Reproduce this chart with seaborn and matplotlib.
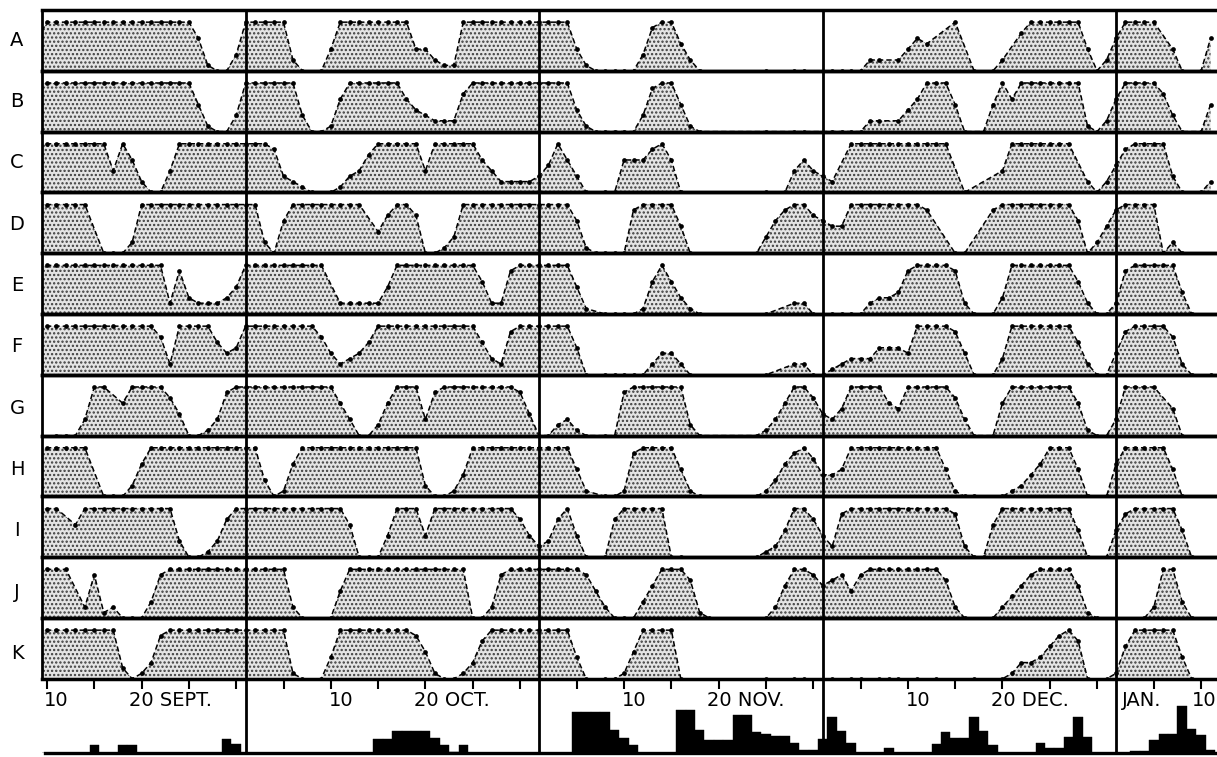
import numpy as np
import pandas as pd
import matplotlib
matplotlib.use("Agg")
import matplotlib.pyplot as plt
import matplotlib.transforms as mtransforms
import seaborn as sns

sns.set_theme(style="white")
plt.rcParams['font.family'] = ['DejaVu Sans']
plt.rcParams['hatch.linewidth'] = 1.1

# ---------------- data ----------------
# one character per day, 9 Sept -> 11 Jan ; '.' = no observation, digit = value in ninths
DATES = pd.date_range("1950-09-09", "1951-01-11", freq="D")
MONTH_LEN = [22, 31, 30, 31, 11]

ROW_LABELS = ["A", "B", "C", "D", "E", "F", "G", "H", "I", "J", "K"]

ROW_A = ("6999999999999999961003|9999920.04999999994421199999999|"
         "999941000003899520......0..00.|.000022.2465..9.0.02.7999999402|69999.40.06")
ROW_B = ("9999999999999999951003|9999993001699999964322279999999|"
         "999941000003899510......0..00.|.000022.24699950.05969999999102|69999730.05")
ROW_C = ("9999999949620049999999|99983210.0134799999499999642222|"
         "359630.006668960........0.0464|32.99999999999.0...49999999.202|58999930.02")
ROW_D = ("999999.000299999999999|9920699999999.47997001399999999|"
         "99996100008999950......0368997|655999999998..00..8999999996025|89999020...")
ROW_E = ("9999999999999928322235|999999999.222225999999999622899|"
         "999951.00001696310......0..220|.0000233489999820.0399999996200|289999940..")
ROW_F = ("9999999999999729999645|9999999974234699999999999632899|"
         "999950.0000024420.......0..220|01233355549999840.0399999996200|489999720.0")
ROW_G = ("..000399.6999974001389|9999999999630026999389999999984|"
         "002310.00899999920.....0136997|43599996599999730.0699999996100|39999.50...")
ROW_H = ("999999.000269999999999|9930169999999999999200149999999|"
         "999951.00189999510.....0136897|44599999999995100..0124699950.0|69999950...")
ROW_I = ("999.699999999993001379|9999999999960004999499999999974|"
         "237940.079999900.......0125997|42899999999999820069999999950.0|589999950..")
ROW_J = ("9999.28120003899999999|9999920..0599999999999990028999|"
         "99999852000369997 10.....026998".replace(" ", "") + "|678589999999972 0..024689999610.".replace(" ", "") + "|...029930..")
ROW_K = ("9999999992013899999999|9999910.04999999998510013799999|"
         "999940.001599990........0..00.|.0.00.000.0.0...0..0133468970.0|169999940..")

ROW_DATA = [ROW_A, ROW_B, ROW_C, ROW_D, ROW_E, ROW_F, ROW_G, ROW_H, ROW_I, ROW_J, ROW_K]

# rainfall (relative bar heights), one value per day
RAIN_SEP = [0, 0, 0, 0, 0, 0, 8, 0, 0, 8, 8, 0, 0, 0, 0, 0, 0, 0, 0, 0, 14, 9]
RAIN_OCT = [0] * 14 + [14, 14, 22, 22, 22, 22, 15, 8, 1, 8] + [0] * 7
RAIN_NOV = [0, 0, 0, 0, 41, 41, 41, 41, 23, 15, 8, 0, 0, 0, 0, 43, 43, 23, 13, 13,
            13, 38, 38, 21, 19, 17, 17, 10, 3, 3]
RAIN_DEC = [14, 36, 22, 10, 0, 0, 0, 5, 0, 0, 0, 0, 9, 21, 15, 15, 36, 22, 8, 0,
            0, 0, 0, 10, 5, 5, 16, 36, 16, 0, 0]
RAIN_JAN = [0, 0, 2, 2, 13, 19, 19, 47, 24, 18, 3]

AXIS_TEXT = ["10", "20 SEPT.", "10", "20 OCT.", "10", "20 NOV.", "10", "20 DEC.", "JAN.", "10"]
AXIS_TEXT_DATE = ["1950-09-10", "1950-09-20", "1950-10-10", "1950-10-20", "1950-11-10",
                  "1950-11-20", "1950-12-10", "1950-12-20", "1951-01-02", "1951-01-10"]


def parse(s):
    parts = s.split("|")
    lens = [len(p) for p in parts]
    assert lens == MONTH_LEN, (s, lens)
    return np.array([np.nan if c == "." else int(c) / 9 for c in "".join(parts)])


day = np.arange(len(DATES))
month_starts = day[DATES.day == 1]
tick_days = day[(DATES.day % 5 == 0) & (day >= 1) & (day <= 123)]
label_days = [int(np.where(DATES == pd.Timestamp(d))[0][0]) for d in AXIS_TEXT_DATE]
label_shift = [-0.3, -1.3, -0.2, -1.2, -0.2, -1.2, -0.2, -1.2, -0.4, 1.6]
label_ha = ["left"] * 9 + ["right"]

# ---------------- layout ----------------
W, H = 1217, 757
fig = plt.figure(figsize=(W / 100, H / 100), dpi=100)
L, R = 42, 1217
X0 = (L - 47) / 9.46 + 1
X1 = (R - 47) / 9.46 + 1
TOP = 10
ROW_H = 60.8

fill_kw = dict(facecolor="#e4e4e4", edgecolor="#3c3c3c", hatch="....", linewidth=0)

axes = []
for i, (lab, s) in enumerate(zip(ROW_LABELS, ROW_DATA)):
    top = TOP + i * ROW_H
    ax = fig.add_axes([L / W, 1 - (top + ROW_H) / H, (R - L) / W, ROW_H / H])
    vals = parse(s)
    df = pd.DataFrame({"day": day, "v": vals}).dropna()
    ax.fill_between(df["day"], df["v"], 0, **fill_kw)
    sns.lineplot(data=df, x="day", y="v", ax=ax, color="black", linewidth=1.1,
                 linestyle=(0, (3.5, 2)), marker="o", markersize=3.4,
                 markeredgewidth=0, estimator=None, sort=False, legend=False)
    ax.set_xlim(X0, X1)
    ax.set_ylim(0, 1.25)
    ax.set_xlabel("")
    ax.set_ylabel("")
    ax.set_yticks([])
    ax.set_facecolor("none")
    for side in ["top", "bottom"]:
        ax.spines[side].set_linewidth(2.5)
        ax.spines[side].set_color("black")
    ax.spines["left"].set_linewidth(2)
    ax.spines["left"].set_color("black")
    ax.spines["right"].set_visible(False)
    ax.set_xticks([])
    fig.text(17 / W, 1 - (top + ROW_H / 2 + i * 0.5) / H, lab, ha="center", va="center",
             fontsize=14, color="black")
    axes.append(ax)

axk = axes[-1]
axk.set_xticks(tick_days)
axk.tick_params(axis="x", bottom=True, direction="out", length=7, width=1.5,
                color="black", labelbottom=False)
trans = mtransforms.blended_transform_factory(axk.transData, axk.transAxes)
for txt, d, sh, ha in zip(AXIS_TEXT, label_days, label_shift, label_ha):
    axk.text(d + sh, -0.36, txt, transform=trans, ha=ha, va="center",
             fontsize=14, color="black")

# rainfall panel
axr = fig.add_axes([L / W, 1 - 753 / H, (R - L) / W, 53 / H])
rain = np.array(RAIN_SEP + RAIN_OCT + RAIN_NOV + RAIN_DEC + RAIN_JAN, dtype=float)
rdf = pd.DataFrame({"day": day, "rain": rain})
sns.histplot(data=rdf, x="day", weights="rain", discrete=True, ax=axr, color="black",
             alpha=1, edgecolor="black", linewidth=0.3, element="bars")
axr.set_xlim(X0, X1)
axr.set_ylim(0, 53)
axr.set_xlabel("")
axr.set_ylabel("")
axr.set_xticks([])
axr.set_yticks([])
axr.set_facecolor("none")
for side in ["top", "left", "right"]:
    axr.spines[side].set_visible(False)
axr.spines["bottom"].set_linewidth(2.4)
axr.spines["bottom"].set_color("black")
axr.spines["bottom"].set_bounds(0.8, X1)

# month boundary lines across everything
axo = fig.add_axes([L / W, 1 - 753 / H, (R - L) / W, (753 - TOP) / H])
axo.set_xlim(X0, X1)
axo.set_ylim(0, 1)
axo.axis("off")
for m in month_starts:
    axo.axvline(m, color="black", linewidth=2)

fig.savefig("out.png", dpi=100)
